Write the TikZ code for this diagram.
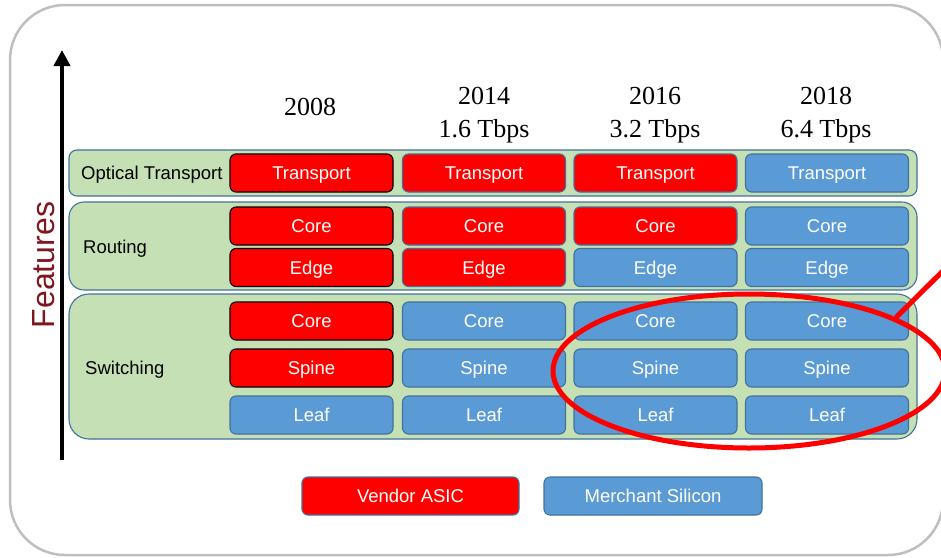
\documentclass[tikz,border=0pt]{standalone}
\usepackage{fontspec}
\setmainfont{Liberation Serif}
\newfontfamily\arial{Liberation Sans}
\usetikzlibrary{arrows.meta,shapes.geometric}
\definecolor{framegray}{RGB}{191,191,191}
\definecolor{rowfill}{RGB}{197,224,180}
\definecolor{rowline}{RGB}{65,113,156}
\definecolor{msblue}{RGB}{91,155,213}
\definecolor{vred}{RGB}{255,0,0}
\definecolor{featred}{RGB}{128,22,30}
\tikzset{
  cell/.style={rounded corners=6pt, minimum width=163pt, minimum height=38pt, inner sep=0pt,
    font=\arial\fontsize{18.5}{20}\selectfont, text=white, line width=1.1pt,
    text height=13.3pt, text depth=0pt},
  vend/.style={cell, fill=vred, draw=rowline},
  vendk/.style={cell, fill=vred, draw=black},
  merch/.style={cell, fill=msblue, draw=rowline},
  rowbox/.style={fill=rowfill, draw=rowline, line width=1.1pt, inner sep=0pt, minimum width=848pt},
  rowlabel/.style={anchor=west, inner sep=0pt, font=\arial\fontsize{18.5}{20}\selectfont,
    text height=13.3pt, text depth=0pt},
  year/.style={font=\fontsize{26}{33}\selectfont, align=center, inner sep=0pt},
}
\begin{document}
\begin{tikzpicture}[x=1pt,y=-1pt]
\useasboundingbox (0,0) rectangle (941,557);
% frame
\draw[framegray, line width=2.5pt, rounded corners=55pt] (10,5) rectangle (943,555);
% axis arrow
\coordinate (afoot) at (62,460);
\coordinate (atip) at (62,50);
\draw[line width=4pt, -{Triangle[length=16pt,width=16pt]}] (afoot) -- (atip);
\node[rotate=90, inner sep=0pt, font=\arial\fontsize{32}{34}\selectfont, text=featred,
  text height=23pt, text depth=0pt] (feat) at (43,265) {Features};
% years
\node[year, anchor=base] (y1) at (310,115) {2008};
\node[year, anchor=base] (y2) at (484,137) {2014\\1.6 Tbps};
\node[year, anchor=base] (y3) at (655,137) {2016\\3.2 Tbps};
\node[year, anchor=base] (y4) at (826,137) {2018\\6.4 Tbps};
% rows
\node[rowbox, rounded corners=8pt, minimum height=46pt] (rowopt) at (493,173) {};
\node[rowbox, rounded corners=15pt, minimum height=88pt] (rowrt) at (493,246) {};
\node[rowbox, rounded corners=20pt, minimum height=145pt] (rowsw) at (493,366.5) {};
\node[rowlabel] (lopt) at (81,173) {Optical Transport};
\node[rowlabel] (lrt) at (83,247) {Routing};
\node[rowlabel] (lsw) at (85,368) {Switching};
% column 2008
\node[vendk] (a1) at (311.5,173) {Transport};
\node[vendk] (a2) at (311.5,226) {Core};
\node[vendk] (a3) at (311.5,267.5) {Edge};
\node[vendk] (a4) at (311.5,321) {Core};
\node[vendk] (a5) at (311.5,368) {Spine};
\node[merch] (a6) at (311.5,415) {Leaf};
% column 2014
\node[vend] (b1) at (484,173) {Transport};
\node[vend] (b2) at (484,226) {Core};
\node[vend] (b3) at (484,267.5) {Edge};
\node[merch] (b4) at (484,321) {Core};
\node[merch] (b5) at (484,368) {Spine};
\node[merch] (b6) at (484,415) {Leaf};
% column 2016
\node[vend] (c1) at (655.5,173) {Transport};
\node[vend] (c2) at (655.5,226) {Core};
\node[merch] (c3) at (655.5,267.5) {Edge};
\node[merch] (c4) at (655.5,321) {Core};
\node[merch] (c5) at (655.5,368) {Spine};
\node[merch] (c6) at (655.5,415) {Leaf};
% column 2018
\node[merch] (d1) at (827,173) {Transport};
\node[merch] (d2) at (827,226) {Core};
\node[merch] (d3) at (827,267.5) {Edge};
\node[merch] (d4) at (827,321) {Core};
\node[merch] (d5) at (827,368) {Spine};
\node[merch] (d6) at (827,415) {Leaf};
% legend
\node[vend, minimum width=217pt] (lgv) at (410.5,496) {Vendor ASIC};
\node[merch, minimum width=218pt] (lgm) at (653,496) {Merchant Silicon};
% highlight
\node[draw=vred, line width=5pt, ellipse, minimum width=392pt, minimum height=154pt, inner sep=0pt] (hl) at (749,371) {};
\coordinate (hlend) at (962,252);
\draw[vred, line width=5pt] (hl.20) -- (hlend);
\end{tikzpicture}
\end{document}
